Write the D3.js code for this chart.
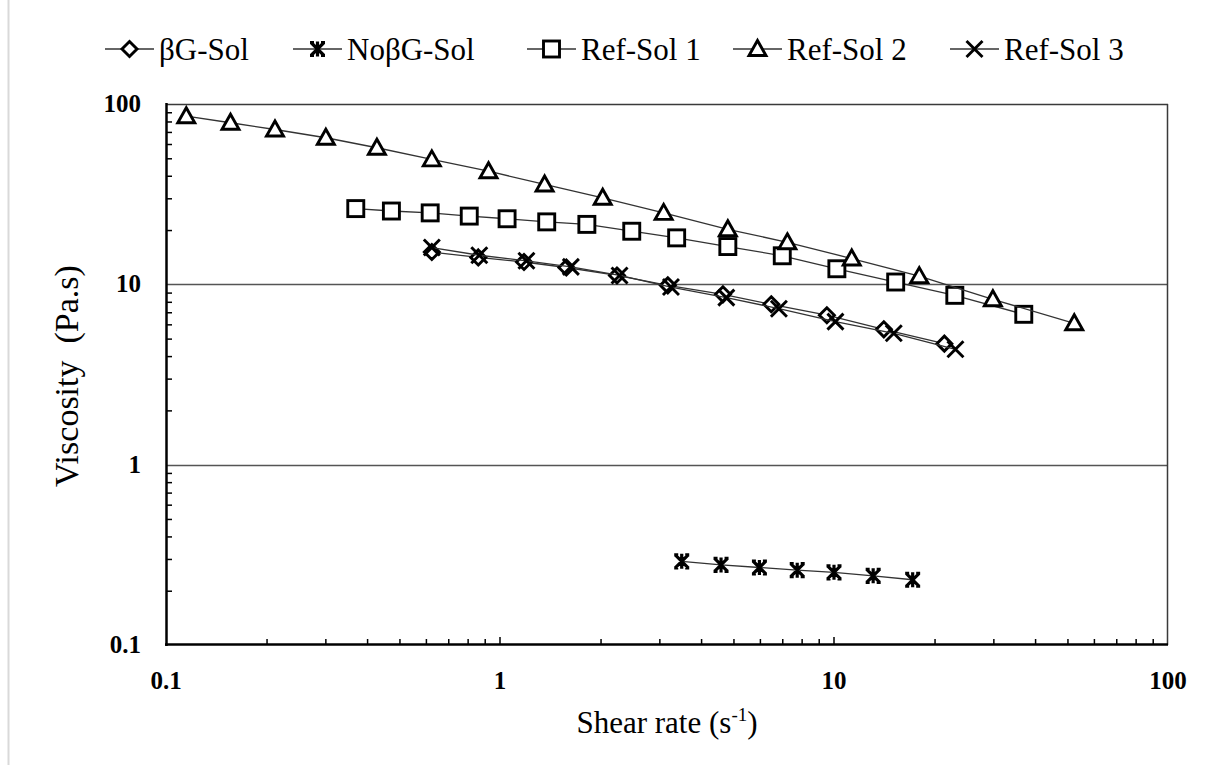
<!DOCTYPE html>
<html>
<head>
<meta charset="utf-8">
<script src="https://cdn.jsdelivr.net/npm/d3@7"></script>
<style>
  html, body { margin: 0; padding: 0; background: #fff; }
  svg text { font-family: "Liberation Serif", "Times New Roman", serif; fill: #000; }
</style>
</head>
<body>
<svg id="chart" width="1208" height="765"></svg>
<script>
// ---------- data ----------
const seriesNames = ["βG-Sol", "NoβG-Sol", "Ref-Sol 1", "Ref-Sol 2", "Ref-Sol 3"];

const bgSolX = [0.625, 0.861, 1.18, 1.58, 2.24, 3.18, 4.65, 6.49, 9.52, 14.1, 21.4];
const bgSolY = [15.1, 14.1, 13.3, 12.4, 11.2, 9.87, 8.80, 7.75, 6.74, 5.63, 4.69];

const noBgSolX = [3.50, 4.59, 5.98, 7.76, 10.0, 13.1, 17.2];
const noBgSolY = [0.291, 0.278, 0.269, 0.260, 0.253, 0.242, 0.230];

const ref1X = [0.370, 0.473, 0.618, 0.809, 1.05, 1.38, 1.82, 2.48, 3.38, 4.81, 7.00, 10.2, 15.3, 23.0, 37.0];
const ref1Y = [26.3, 25.5, 24.9, 23.9, 23.1, 22.2, 21.5, 19.7, 18.1, 16.2, 14.4, 12.2, 10.3, 8.69, 6.82];

const ref2X = [0.115, 0.156, 0.212, 0.301, 0.428, 0.625, 0.924, 1.36, 2.03, 3.09, 4.81, 7.25, 11.3, 18.0, 29.9, 52.4];
const ref2Y = [85.6, 78.7, 72.2, 65.0, 57.2, 49.3, 42.4, 35.8, 30.2, 24.9, 20.2, 17.1, 13.9, 11.1, 8.26, 6.08];

const ref3X = [0.625, 0.867, 1.20, 1.63, 2.28, 3.25, 4.76, 6.84, 10.1, 15.1, 23.1];
const ref3Y = [16.0, 14.5, 13.5, 12.5, 11.2, 9.66, 8.44, 7.33, 6.21, 5.35, 4.36];

const xTicks = [0.1, 1, 10, 100];
const yTicks = [0.1, 1, 10, 100];
const xTickLabels = ["0.1", "1", "10", "100"];
const yTickLabels = ["0.1", "1", "10", "100"];
const markerTypes = ["diamond", "star", "square", "triangle", "cross"];

const xTitle = "Shear rate (s";
const xTitleSup = "-1";
const yTitle = "Viscosity  (Pa.s)";

// ---------- layout ----------
const svg = d3.select("#chart");
const plot = { left: 166, right: 1168, top: 104, bottom: 645 };

const x = d3.scaleLog().domain([0.1, 100]).range([plot.left, plot.right]);
const y = d3.scaleLog().domain([0.1, 100]).range([plot.bottom, plot.top]);

// outer light frame edge
svg.append("line").attr("x1", 8.5).attr("x2", 8.5).attr("y1", 0).attr("y2", 765)
  .attr("stroke", "#d9d9d9").attr("stroke-width", 2);

// gridlines (horizontal, at inner major ticks)
svg.append("g").selectAll("line").data(yTicks.filter(v => v > 0.1 && v < 100)).join("line")
  .attr("x1", plot.left).attr("x2", plot.right)
  .attr("y1", d => Math.round(y(d)) + 0.5).attr("y2", d => Math.round(y(d)) + 0.5)
  .attr("stroke", "#555").attr("stroke-width", 1.3);

// top & right border
svg.append("line").attr("x1", plot.left).attr("x2", plot.right).attr("y1", plot.top + 0.5).attr("y2", plot.top + 0.5)
  .attr("stroke", "#3a3a3a").attr("stroke-width", 1.5);
svg.append("line").attr("x1", plot.right - 0.5).attr("x2", plot.right - 0.5).attr("y1", plot.top).attr("y2", plot.bottom)
  .attr("stroke", "#3a3a3a").attr("stroke-width", 1.5);

function minorTicks(lo, hi) {
  const out = [];
  for (let d = lo; d < hi; d *= 10) for (let k = 2; k <= 9; k++) out.push(d * k);
  return out;
}

// y axis
const yAxis = d3.axisRight(y).tickValues(minorTicks(0.1, 100)).tickSize(6).tickFormat("");
const gy = svg.append("g").attr("transform", `translate(${plot.left},0)`).call(yAxis);
gy.selectAll("line").attr("stroke", "#000").attr("stroke-width", 1.5);
gy.select(".domain").remove();
svg.append("line").attr("x1", plot.left + 0.5).attr("x2", plot.left + 0.5).attr("y1", plot.top - 1).attr("y2", plot.bottom + 1)
  .attr("stroke", "#000").attr("stroke-width", 2.5);
svg.append("g").selectAll("text").data(yTicks).join("text")
  .attr("x", 141).attr("y", d => y(d) + 8)
  .attr("text-anchor", "end").attr("font-size", 25).attr("font-weight", "bold")
  .text((d, i) => yTickLabels[i]);

// x axis
const xAxis = d3.axisTop(x).tickValues(minorTicks(0.1, 100)).tickSize(6).tickFormat("");
const gx = svg.append("g").attr("transform", `translate(0,${plot.bottom})`).call(xAxis);
gx.selectAll("line").attr("stroke", "#000").attr("stroke-width", 1.5);
gx.select(".domain").remove();
svg.append("g").selectAll("line").data([1, 10]).join("line")
  .attr("x1", d => x(d)).attr("x2", d => x(d)).attr("y1", plot.bottom).attr("y2", plot.bottom - 8)
  .attr("stroke", "#000").attr("stroke-width", 1.5);
svg.append("line").attr("x1", plot.left - 1).attr("x2", plot.right).attr("y1", plot.bottom - 0.5).attr("y2", plot.bottom - 0.5)
  .attr("stroke", "#000").attr("stroke-width", 2.5);
svg.append("g").selectAll("text").data(xTicks).join("text")
  .attr("x", d => x(d)).attr("y", 689)
  .attr("text-anchor", "middle").attr("font-size", 25).attr("font-weight", "bold")
  .text((d, i) => xTickLabels[i]);

// axis titles
const xt = svg.append("text").attr("x", (plot.left + plot.right) / 2).attr("y", 733)
  .attr("text-anchor", "middle").attr("font-size", 31);
xt.append("tspan").text(xTitle);
xt.append("tspan").attr("font-size", 19).attr("dy", -12).text(xTitleSup);
xt.append("tspan").attr("dy", 12).text(")");

svg.append("text").attr("transform", "translate(78,376) rotate(-90)")
  .attr("text-anchor", "middle").attr("font-size", 34).style("white-space", "pre")
  .text(yTitle);

// ---------- markers ----------
function drawMarker(g, type, cx, cy) {
  const sw = 2.9;
  if (type === "diamond") {
    const r = 7.5;
    g.append("path").attr("d", `M${cx},${cy - r}L${cx + r},${cy}L${cx},${cy + r}L${cx - r},${cy}Z`)
      .attr("fill", "#fff").attr("stroke", "#000").attr("stroke-width", sw);
  } else if (type === "square") {
    const r = 8;
    g.append("rect").attr("x", cx - r).attr("y", cy - r).attr("width", 2 * r).attr("height", 2 * r)
      .attr("fill", "#fff").attr("stroke", "#000").attr("stroke-width", sw);
  } else if (type === "triangle") {
    const r = 8.5;
    g.append("path").attr("d", `M${cx},${cy - r}L${cx + r},${cy + 6.5}L${cx - r},${cy + 6.5}Z`)
      .attr("fill", "#fff").attr("stroke", "#000").attr("stroke-width", sw).attr("stroke-linejoin", "miter");
  } else if (type === "cross") {
    const r = 8;
    g.append("path").attr("d", `M${cx - r},${cy - r}L${cx + r},${cy + r}M${cx - r},${cy + r}L${cx + r},${cy - r}`)
      .attr("fill", "none").attr("stroke", "#000").attr("stroke-width", sw);
  } else if (type === "star") {
    const r = 6.5;
    g.append("path").attr("d",
      `M${cx - r},${cy - r}L${cx + r},${cy + r}M${cx - r},${cy + r}L${cx + r},${cy - r}M${cx},${cy - r - 1}L${cx},${cy + r + 1}` +
      `M${cx - r - 1},${cy - r}L${cx - r + 3},${cy - r}M${cx + r + 1},${cy - r}L${cx + r - 3},${cy - r}` +
      `M${cx - r - 1},${cy + r}L${cx - r + 3},${cy + r}M${cx + r + 1},${cy + r}L${cx + r - 3},${cy + r}`)
      .attr("fill", "none").attr("stroke", "#000").attr("stroke-width", 3.2);
  }
}

// ---------- series ----------
const allSeries = [
  { name: seriesNames[0], xs: bgSolX, ys: bgSolY, m: markerTypes[0] },
  { name: seriesNames[1], xs: noBgSolX, ys: noBgSolY, m: markerTypes[1] },
  { name: seriesNames[2], xs: ref1X, ys: ref1Y, m: markerTypes[2] },
  { name: seriesNames[3], xs: ref2X, ys: ref2Y, m: markerTypes[3] },
  { name: seriesNames[4], xs: ref3X, ys: ref3Y, m: markerTypes[4] }
];

const line = d3.line().x(d => x(d[0])).y(d => y(d[1]));
const dataG = svg.append("g");
allSeries.forEach(s => {
  const pts = s.xs.map((v, i) => [v, s.ys[i]]);
  const g = dataG.append("g");
  g.append("path").attr("d", line(pts)).attr("fill", "none")
    .attr("stroke", "#333").attr("stroke-width", 1.3);
  pts.forEach(p => drawMarker(g, s.m, x(p[0]), y(p[1])));
});

// ---------- legend ----------
const legendX = [105, 293, 527, 733, 950];
const legendY = 49;
const leg = svg.append("g");
allSeries.forEach((s, i) => {
  const lx = legendX[i];
  leg.append("line").attr("x1", lx).attr("x2", lx + 49).attr("y1", legendY).attr("y2", legendY)
    .attr("stroke", "#333").attr("stroke-width", 1.5);
  drawMarker(leg, s.m, lx + 24.5, legendY);
  leg.append("text").attr("x", lx + 54).attr("y", legendY + 11).attr("font-size", 31).text(s.name);
});
</script>
</body>
</html>
